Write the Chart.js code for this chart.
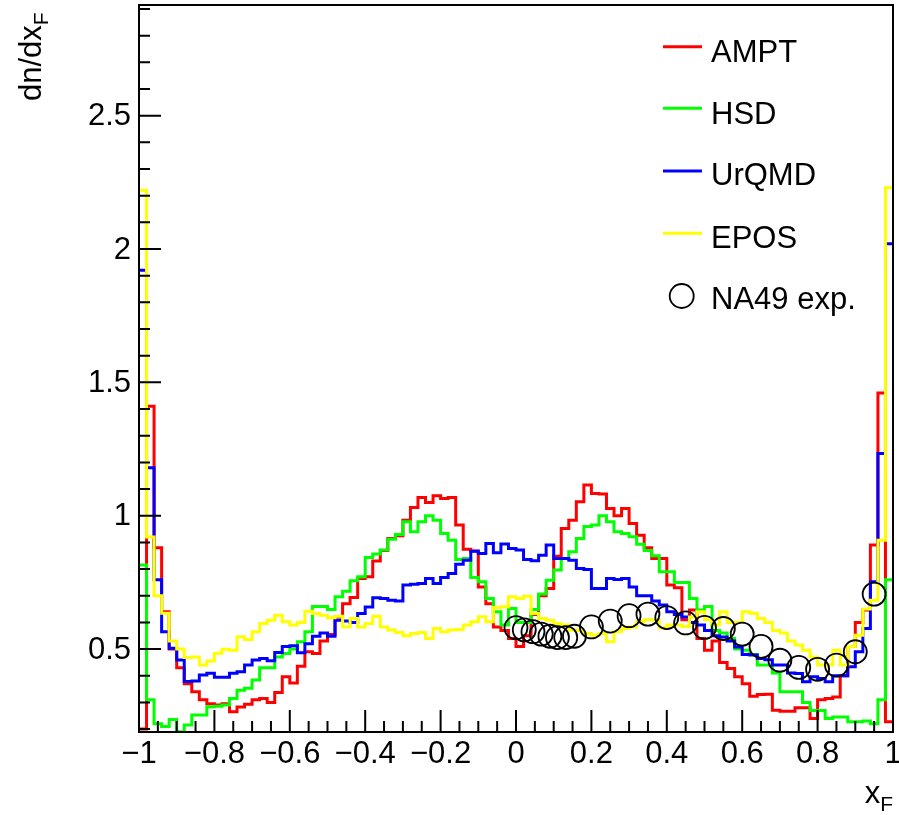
<!DOCTYPE html>
<html><head><meta charset="utf-8">
<script src="https://cdn.jsdelivr.net/npm/chart.js@4/dist/chart.umd.min.js"></script>
<style>html,body{margin:0;padding:0;background:#fff;}canvas{display:block;}</style>
</head><body>
<canvas id="c" width="899" height="815"></canvas>
<script>
// ---- data ----
const binLow = -1;
const binWidth = 0.02;
const amptValues = [
 0.20,1.41,0.88,0.64,0.50,0.43,0.37,0.34,0.31,0.295,
 0.29,0.295,0.265,0.283,0.293,0.31,0.315,0.30,0.337,0.396,
 0.373,0.436,0.49,0.483,0.53,0.555,0.62,0.67,0.693,0.765,
 0.771,0.83,0.87,0.915,0.925,0.983,1.031,1.068,1.05,1.075,
 1.065,1.068,0.965,0.874,0.868,0.733,0.67,0.583,0.57,0.54,
 0.51,0.55,0.63,0.70,0.727,0.848,0.952,0.983,1.052,1.115,
 1.083,1.081,1.027,1.0,1.027,0.971,0.927,0.88,0.84,0.84,
 0.74,0.73,0.61,0.646,0.54,0.496,0.53,0.45,0.427,0.396,
 0.37,0.323,0.33,0.331,0.271,0.267,0.267,0.28,0.28,0.24,
 0.31,0.315,0.32,0.40,0.51,0.60,0.646,0.89,1.46,0.227];
const hsdValues = [
 0.815,0.31,0.22,0.21,0.236,0.19,0.215,0.253,0.253,0.284,
 0.286,0.29,0.315,0.346,0.353,0.384,0.43,0.43,0.47,0.483,
 0.50,0.527,0.565,0.66,0.66,0.648,0.696,0.717,0.756,0.771,
 0.843,0.856,0.871,0.912,0.93,0.977,0.94,0.977,1.0,0.983,
 0.933,0.908,0.836,0.84,0.768,0.752,0.69,0.64,0.59,0.652,
 0.60,0.60,0.648,0.706,0.758,0.796,0.84,0.865,0.915,0.96,
 0.965,1.0,0.977,0.94,0.933,0.921,0.893,0.87,0.85,0.79,
 0.79,0.75,0.75,0.69,0.646,0.66,0.57,0.56,0.54,0.50,
 0.496,0.48,0.44,0.44,0.41,0.34,0.34,0.34,0.30,0.27,
 0.27,0.24,0.245,0.245,0.227,0.227,0.23,0.22,0.31,0.76];
const urqmdValues = [
 1.92,1.18,0.76,0.565,0.503,0.459,0.378,0.38,0.403,0.409,
 0.394,0.394,0.409,0.415,0.44,0.459,0.465,0.456,0.487,0.51,
 0.512,0.486,0.52,0.548,0.56,0.548,0.608,0.605,0.60,0.633,
 0.658,0.692,0.69,0.683,0.68,0.74,0.743,0.746,0.765,0.746,
 0.768,0.783,0.818,0.833,0.867,0.858,0.896,0.861,0.894,0.877,
 0.871,0.836,0.831,0.852,0.89,0.84,0.84,0.833,0.802,0.798,
 0.727,0.727,0.765,0.761,0.765,0.733,0.70,0.70,0.68,0.665,
 0.64,0.63,0.62,0.60,0.59,0.57,0.55,0.545,0.53,0.508,
 0.48,0.478,0.465,0.46,0.44,0.44,0.41,0.408,0.377,0.396,
 0.39,0.377,0.40,0.40,0.434,0.49,0.577,0.752,1.233,2.02];
const eposValues = [
 2.22,0.92,0.70,0.634,0.53,0.50,0.468,0.47,0.44,0.455,
 0.484,0.499,0.496,0.546,0.536,0.565,0.596,0.608,0.627,0.602,
 0.59,0.60,0.642,0.633,0.627,0.617,0.623,0.583,0.615,0.583,
 0.596,0.623,0.583,0.571,0.562,0.55,0.558,0.562,0.54,0.577,
 0.565,0.571,0.573,0.59,0.602,0.621,0.602,0.656,0.659,0.696,
 0.69,0.698,0.633,0.615,0.608,0.596,0.59,0.571,0.57,0.558,
 0.552,0.558,0.527,0.565,0.577,0.583,0.602,0.61,0.61,0.58,
 0.59,0.59,0.585,0.62,0.64,0.61,0.59,0.64,0.60,0.60,
 0.64,0.634,0.615,0.60,0.57,0.56,0.53,0.515,0.496,0.47,
 0.44,0.44,0.496,0.44,0.51,0.552,0.65,0.683,0.908,2.23];
const na49X = [0,0.022,0.045,0.067,0.09,0.11,0.132,0.155,0.2,0.25,0.3,0.35,0.4,0.45,0.5,0.55,0.6,0.65,0.7,0.75,0.8,0.85,0.9,0.95];
const na49Y = [0.58,0.572,0.565,0.556,0.548,0.543,0.543,0.548,0.583,0.605,0.625,0.631,0.618,0.598,0.581,0.577,0.556,0.51,0.458,0.431,0.424,0.44,0.49,0.706];
const seriesNames = ['AMPT','HSD','UrQMD','EPOS','NA49 exp.'];
const seriesColors = ['#ff0000','#00ff00','#0000ff','#ffff00','#000000'];
const xTickValues = [-1,-0.8,-0.6,-0.4,-0.2,0,0.2,0.4,0.6,0.8,1];
const xTickLabels = ['\u22121','\u22120.8','\u22120.6','\u22120.4','\u22120.2','0','0.2','0.4','0.6','0.8','1'];
const yTickValues = [0.5,1,1.5,2,2.5];
const yTickLabels = ['0.5','1','1.5','2','2.5'];
const xMin = -1, xMax = 1, yMin = 0.189, yMax = 2.915;
const xMinorStep = 0.05, yMinorStep = 0.1;

// ---- build ----
function histPoints(vals){
  const pts = vals.map((v,i)=>({x: binLow + i*binWidth, y: v}));
  pts.push({x: binLow + vals.length*binWidth, y: vals[vals.length-1]});
  return pts;
}
const FONT = '"Liberation Sans", Arial, Helvetica, sans-serif';
const histSets = [amptValues, hsdValues, urqmdValues, eposValues].map((vals,i)=>({
  label: seriesNames[i], data: histPoints(vals), borderColor: seriesColors[i],
  borderWidth: 3, pointRadius: 0, stepped: true, fill: false, order: 4 - i, tension: 0
}));
const na49Set = {
  label: seriesNames[4], data: na49X.map((x,i)=>({x:x, y:na49Y[i]})),
  showLine: false, pointRadius: 11.5, pointHoverRadius: 11.5, pointBorderWidth: 1.8,
  pointBorderColor: '#000', pointBackgroundColor: 'rgba(0,0,0,0)', borderColor: '#000', order: 0
};

const axesPlugin = {
  id: 'rootAxes',
  afterDraw(chart){
    const ctx = chart.ctx, a = chart.chartArea;
    const xs = chart.scales.x, ys = chart.scales.y;
    ctx.save();
    ctx.strokeStyle = '#000'; ctx.fillStyle = '#000';
    ctx.lineWidth = 2;
    ctx.strokeRect(a.left, a.top, a.right - a.left, a.bottom - a.top);
    // x ticks
    ctx.lineWidth = 2;
    ctx.beginPath();
    for (let v = xMin; v <= xMax + 1e-9; v += xMinorStep) {
      const px = xs.getPixelForValue(v);
      const major = xTickValues.some(t => Math.abs(t - v) < 1e-6);
      const len = major ? 22 : 11;
      ctx.moveTo(px, a.bottom); ctx.lineTo(px, a.bottom - len);
    }
    // y ticks
    const yStart = Math.ceil(yMin / yMinorStep) * yMinorStep;
    for (let v = yStart; v <= yMax + 1e-9; v += yMinorStep) {
      const py = ys.getPixelForValue(v);
      const major = yTickValues.some(t => Math.abs(t - v) < 1e-6);
      const len = major ? 22 : 11;
      ctx.moveTo(a.left, py); ctx.lineTo(a.left + len, py);
    }
    ctx.stroke();
    // tick labels
    ctx.font = '31px ' + FONT;
    ctx.textAlign = 'center'; ctx.textBaseline = 'alphabetic';
    xTickValues.forEach((v,i)=>{ ctx.fillText(xTickLabels[i], xs.getPixelForValue(v), 763); });
    ctx.textAlign = 'right'; ctx.textBaseline = 'middle';
    yTickValues.forEach((v,i)=>{ ctx.fillText(yTickLabels[i], 131, ys.getPixelForValue(v) + 1); });
    // x title
    ctx.textBaseline = 'alphabetic'; ctx.textAlign = 'left';
    ctx.font = '31px ' + FONT;
    const wx = ctx.measureText('x').width;
    ctx.font = '21px ' + FONT;
    const wf = ctx.measureText('F').width;
    const xStart = 893 - wx - wf;
    ctx.font = '31px ' + FONT; ctx.fillText('x', xStart, 803);
    ctx.font = '21px ' + FONT; ctx.fillText('F', xStart + wx, 811);
    // y title
    ctx.save();
    ctx.translate(41, 101); ctx.rotate(-Math.PI/2);
    ctx.font = '31px ' + FONT; ctx.fillText('dn/dx', 0, 0);
    const wd = ctx.measureText('dn/dx').width;
    ctx.font = '21px ' + FONT; ctx.fillText('F', wd, 7);
    ctx.restore();
    // legend
    const rowsLine = [46.7, 108.3, 171, 233.3];
    const rowsText = [61.7, 123.5, 185.3, 247.5, 309];
    ctx.font = '31px ' + FONT; ctx.textAlign = 'left'; ctx.textBaseline = 'alphabetic';
    for (let i = 0; i < 4; i++) {
      ctx.strokeStyle = seriesColors[i]; ctx.lineWidth = 3;
      ctx.beginPath(); ctx.moveTo(663, rowsLine[i]); ctx.lineTo(702, rowsLine[i]); ctx.stroke();
      ctx.fillStyle = '#000'; ctx.fillText(seriesNames[i], 711, rowsText[i]);
    }
    ctx.strokeStyle = '#000'; ctx.lineWidth = 1.8;
    ctx.beginPath(); ctx.arc(681.7, 296, 12, 0, Math.PI*2); ctx.stroke();
    ctx.fillText(seriesNames[4], 711, rowsText[4]);
    ctx.restore();
  }
};

new Chart(document.getElementById('c'), {
  type: 'line',
  data: { datasets: [...histSets, na49Set] },
  options: {
    responsive: false, animation: false, devicePixelRatio: 1,
    layout: { autoPadding: false, padding: { left: 139, right: 6, top: 5, bottom: 83 } },
    plugins: { legend: { display: false }, tooltip: { enabled: false } },
    scales: {
      x: { type: 'linear', min: xMin, max: xMax, display: false },
      y: { type: 'linear', min: yMin, max: yMax, display: false }
    }
  },
  plugins: [axesPlugin]
});
</script>
</body></html>
